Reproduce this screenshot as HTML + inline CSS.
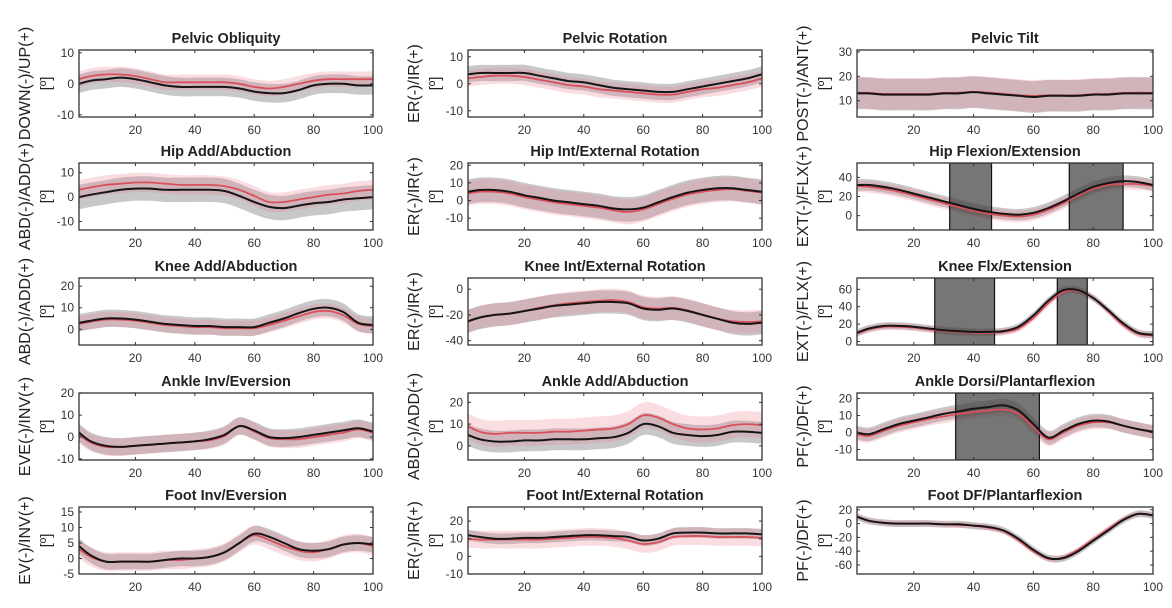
<!DOCTYPE html>
<html><head><meta charset="utf-8"><style>
html,body{margin:0;padding:0;background:#fff}
svg{display:block;font-family:"Liberation Sans",Arial,sans-serif}
</style></head><body>
<svg id="fig" width="1172" height="608" viewBox="0 0 1172 608" xmlns="http://www.w3.org/2000/svg"></svg>
<script>
const X = [1,5,10,15,20,25,30,35,40,45,50,55,60,65,70,75,80,85,90,95,100];
const xTicks = [20,40,60,80,100];
const titles = ["Pelvic Obliquity","Pelvic Rotation","Pelvic Tilt","Hip Add/Abduction","Hip Int/External Rotation","Hip Flexion/Extension","Knee Add/Abduction","Knee Int/External Rotation","Knee Flx/Extension","Ankle Inv/Eversion","Ankle Add/Abduction","Ankle Dorsi/Plantarflexion","Foot Inv/Eversion","Foot Int/External Rotation","Foot DF/Plantarflexion"];
const yLabels = ["DOWN(-)/UP(+)","ER(-)/IR(+)","POST(-)/ANT(+)","ABD(-)/ADD(+)","ER(-)/IR(+)","EXT(-)/FLX(+)","ABD(-)/ADD(+)","ER(-)/IR(+)","EXT(-)/FLX(+)","EVE(-)/INV(+)","ABD(-)/ADD(+)","PF(-)/DF(+)","EV(-)/INV(+)","ER(-)/IR(+)","PF(-)/DF(+)"];
const yLims = [[-10.7,10.9],[-12.3,12.5],[3.3,30.8],[-13.5,14],[-16.7,21.3],[-15,55],[-7.3,23.8],[-43.4,8.7],[-4,73],[-10.5,20.1],[-6.5,24.3],[-16.2,23.3],[-5,16.6],[-10,28],[-73,24]];
const yTicks = [[-10,0,10],[-10,0,10],[10,20,30],[-10,0,10],[-10,0,10,20],[0,20,40],[0,10,20],[-40,-20,0],[0,20,40,60],[-10,0,10,20],[0,10,20],[-10,0,10,20],[-5,0,5,10,15],[-10,0,10,20],[-60,-40,-20,0,20]];
const blackMean = [
[0,1,1.5,2,1.5,0.5,-0.5,-1,-1,-1,-1,-1.5,-2.5,-3,-3,-2,-0.5,0,0,-0.5,-0.5],
[3.5,4,4,4,4,3,2,1,0.5,-0.5,-1.5,-2,-2.5,-3,-3,-2,-1,0,1,2,3.5],
[13,13,12.5,12.5,12.5,12.5,13,13,13.5,13,12.5,12,11.5,12,12,12,12.5,12.5,13,13,13],
[0,1,2,3,3.5,3.5,3,3,3,3,2.5,0.5,-2,-4,-4.5,-3.5,-2.5,-2,-1,-0.5,0],
[5,6,6,5,3,1.5,0,-1,-2,-3,-4.5,-5,-4,-1,2,4.5,6,7,7,6,5],
[32,32,30,27,23,19,15,11,7,4,2,1,3,8,15,23,30,34,36,35,32],
[3,4,5,5,4.5,3.5,2.5,2,1.5,1.5,1,1,1,3,5,7.5,9.5,10,8,3,2],
[-25,-22,-20,-19,-17,-15,-13,-12,-11,-10,-10,-11,-15,-16,-15,-17,-20,-23,-26,-27,-26],
[10,15,18,18,17,15,13,12,11,11,12,17,30,47,59,59,50,36,21,10,8],
[2,-2,-4,-4.5,-4,-3.5,-3,-2.5,-2,-1,1,5,3,0,-0.5,0,1,2,3,4,2.5],
[5,3,2,2,2.5,2.5,3,3,3,3.5,4,6,10,9,6,5,4.5,5,6.5,6.5,6],
[0,-1,2,5,7,9,11,12.5,14,15,16,13,5,-3,1,5,7,6.5,4,2,0.5],
[4,1,-1,-1,-1,-1,-0.5,0,0,0.5,2,5,8,7,5,3,2.5,3,4.5,5,4.5],
[12,11,10,10,10.5,10.5,11,11.5,12,12,11.5,11,9,10,13,13.5,13.5,13,13,13,12.5],
[10,4,1,0,0,0,-1,-1,-3,-5,-10,-22,-38,-50,-50,-40,-25,-10,5,14,12]];
const redMean = [
[1.5,2.5,3,3,2.5,1.5,0.5,0.5,0.5,0.5,0.5,0,-1,-1.5,-1,0,1,1.5,1.5,1.5,1.5],
[2,2.5,3,3,2.5,1.5,0.5,-0.5,-1,-2,-2.5,-3,-3.5,-4,-4,-3,-2,-1.5,-0.5,0.5,2],
[13.3,13.2,12.8,12.8,12.8,12.8,13.2,13.3,13.6,13.3,12.8,12.3,12,12.2,12.2,12.3,12.7,12.8,13.2,13.3,13.2],
[3,4,5,5.5,6,6,5.5,5,5,5,4.5,3,0.5,-2,-2,-1,0,1,1.5,2.5,3],
[4,5,5,4,2,0.5,-1,-2,-3,-4,-5.5,-6.5,-5,-2,1,3.5,5,6,6.5,5.5,4.5],
[31,30,28,25,21,17,13,9,5,2,0,-1,1,6,13,21,28,32,33,33,31],
[2.5,3.5,4.5,4.5,4,3,2,1.5,1,1,0.5,0.5,0.5,2,4,6,8,8.5,6.5,2.5,1.5],
[-25,-22,-20,-19,-17,-14.5,-12.5,-11,-10,-9,-8.5,-10,-14,-15,-14.5,-16.5,-20,-23,-25,-25.5,-25],
[9,14,17,17,16,14,12,11,10,10,11,15,27,44,57,58,50,35,19,9,7],
[1,-2.5,-4.5,-4.5,-4,-3.5,-3,-2.5,-2,-1.5,0.5,5,2.5,-0.5,-1,-1,0,1,2,3.5,2],
[9,6.5,5.5,6,6,6,6.5,6.5,7,7.5,8,10,14,13,10,8,7.5,8,9.5,10,9.5],
[-1,-2,1,4,6,8,9.5,11,12,13,13.5,11,3,-4,0,4,6,6,4,2,0],
[3,0.5,-1,-1,-1,-1,-0.5,-0.5,0,0.5,2,5,7.5,6,4,2.5,2,3,4.5,5,4],
[10,9.5,9.5,9.5,9.5,9.5,10,10.5,11,11,10.5,9,7,8,11,11.5,11.5,11,11,11,10.5],
[10,4,1,0,0,0,-1,-2,-3,-6,-11,-24,-40,-51,-49,-38,-23,-8,6,14,12]];
const blackSD = [3,3,6.5,5,7,6,4,9,4,4,5,4,2.5,3,5];
const redSD = [2.5,3,6.5,4,7,6,3.5,9,4,4,6,4,3,5,4];
const sigStart = {5:[32,72],8:[27,68],11:[34]};
const sigEnd = {5:[46,90],8:[47,78],11:[62]};

const colLeft=[79,468,857], colW=[294,294,296], rowTop=[50,163,278,393,507], axH=67;
const labelX=[22,411,800];
const NS='http://www.w3.org/2000/svg';
const svg=document.getElementById('fig');
function mk(tag,attrs,parent){const e=document.createElementNS(NS,tag);for(const k in attrs)e.setAttribute(k,attrs[k]);(parent||svg).appendChild(e);return e;}
function smooth(pts){let d='M'+pts[0][0].toFixed(1)+','+pts[0][1].toFixed(1);
 for(let i=0;i<pts.length-1;i++){const p0=pts[Math.max(0,i-1)],p1=pts[i],p2=pts[i+1],p3=pts[Math.min(pts.length-1,i+2)];
 const c1=[p1[0]+(p2[0]-p0[0])/6,p1[1]+(p2[1]-p0[1])/6],c2=[p2[0]-(p3[0]-p1[0])/6,p2[1]-(p3[1]-p1[1])/6];
 d+='C'+c1[0].toFixed(1)+','+c1[1].toFixed(1)+' '+c2[0].toFixed(1)+','+c2[1].toFixed(1)+' '+p2[0].toFixed(1)+','+p2[1].toFixed(1);}return d;}
function bandPath(xs,mean,sd,sx,sy){const up=xs.map((x,i)=>[sx(x),sy(mean[i]+sd)]);const lo=xs.map((x,i)=>[sx(x),sy(mean[i]-sd)]).reverse();
 return smooth(up)+'L'+smooth(lo).slice(1)+'Z';}

for(let p=0;p<15;p++){
 const r=Math.floor(p/3),c=p%3;
 const L=colLeft[c],T=rowTop[r],W=colW[c],H=axH;
 const [y0,y1]=yLims[p];
 const sx=v=>L+(v-1)/99*W, sy=v=>T+H-(v-y0)/(y1-y0)*H;
 const g=mk('g',{});
 
 
 const clipId='clip'+p;
 const cp=mk('clipPath',{id:clipId},g);mk('rect',{x:L,y:T,width:W,height:H},cp);
 const plot=mk('g',{'clip-path':'url(#'+clipId+')'},g);
 const bb=mk('path',{d:bandPath(X,blackMean[p],blackSD[p],sx,sy),fill:'rgb(110,110,115)','fill-opacity':'0.38'},plot);
 
 
 const rb=mk('path',{d:bandPath(X,redMean[p],redSD[p],sx,sy),fill:'rgb(235,120,135)','fill-opacity':'0.25'},plot);
 
 
 if(sigStart[p]){sigStart[p].forEach((s,i)=>{const e=sigEnd[p][i];
  const rr=mk('rect',{x:sx(s),y:T,width:sx(e)-sx(s),height:H,fill:'rgb(60,60,60)','fill-opacity':'0.7',stroke:'#111','stroke-width':1.2},plot);
  
  });}
 const rl=mk('path',{d:smooth(X.map((x,i)=>[sx(x),sy(redMean[p][i])])),fill:'none',stroke:'#d9505c','stroke-width':1.8},plot);
 
 
 const bl=mk('path',{d:smooth(X.map((x,i)=>[sx(x),sy(blackMean[p][i])])),fill:'none',stroke:'#151515','stroke-width':2},plot);
 
 
 const fr=mk('rect',{x:L,y:T,width:W,height:H,fill:'none',stroke:'#333','stroke-width':1.3},g);
 
 
 xTicks.forEach(t=>{const x=sx(t);
  mk('line',{x1:x,x2:x,y1:T+H,y2:T+H-3,stroke:'#333'},g);mk('line',{x1:x,x2:x,y1:T,y2:T+3,stroke:'#333'},g);
  const tx=mk('text',{x:x,y:T+H+17,'font-size':12,fill:'#333','text-anchor':'middle'},g);tx.textContent=t;
  
  });
 yTicks[p].forEach(t=>{const y=sy(t);
  mk('line',{x1:L,x2:L+3,y1:y,y2:y,stroke:'#333'},g);mk('line',{x1:L+W,x2:L+W-3,y1:y,y2:y,stroke:'#333'},g);
  const tx=mk('text',{x:L-5,y:y+4,'font-size':12,fill:'#333','text-anchor':'end'},g);tx.textContent=t;
  
  });
 const tt=mk('text',{x:L+W/2,y:T-7,'font-size':14.5,'font-weight':'bold',fill:'#222','text-anchor':'middle'},g);tt.textContent=titles[p];
 
 
 const cy=T+H/2;
 const yl=mk('text',{x:0,y:0,'font-size':16,fill:'#222','text-anchor':'middle',transform:'translate('+(labelX[c]+8)+','+cy+') rotate(-90)'},g);yl.textContent=yLabels[p];
 
 
 const yu=mk('text',{x:0,y:0,'font-size':15,fill:'#222','text-anchor':'middle',transform:'translate('+(labelX[c]+29)+','+cy+') rotate(-90)'},g);yu.textContent='[º]';
 
 
}
</script>
</body></html>
